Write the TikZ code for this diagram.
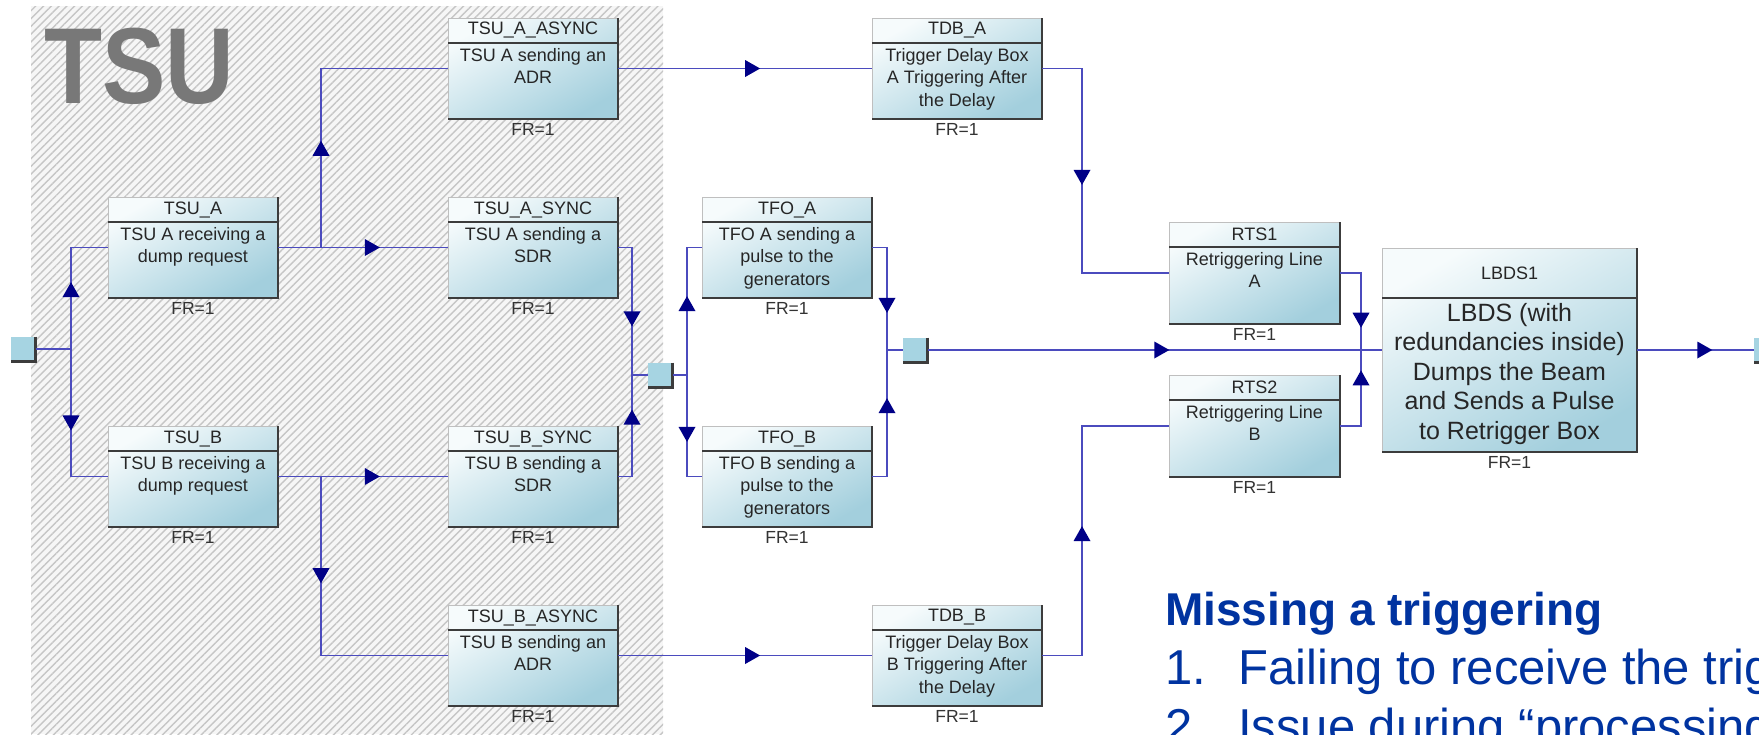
\documentclass[tikz,border=0pt]{standalone}
\usepackage{fontspec}
\setmainfont{Liberation Sans}
\usepackage{tikz}
\usetikzlibrary{shapes.geometric,patterns.meta,calc}

\definecolor{BoxTop}{RGB}{246,251,252}
\definecolor{BoxBottom}{RGB}{163,207,221}
\definecolor{PortBlue}{RGB}{166,212,226}
\definecolor{WireBlue}{RGB}{75,75,190}
\definecolor{TipBlue}{RGB}{0,0,135}
\definecolor{EdgeGray}{RGB}{60,60,60}
\definecolor{TsuGray}{RGB}{120,120,120}
\definecolor{SlideBlue}{RGB}{0,51,160}

\tikzset{
  block width/.store in=\blockw,
  block height/.store in=\blockh,
  header height/.store in=\hdrheight,
  body font/.store in=\bodyfont,
  block width=170pt,
  block height=101pt,
  header height=25pt,
  body font=\fontsize{18}{22.5}\selectfont,
}
\tikzset{
  block/.style={minimum width=\blockw, minimum height=\blockh, inner sep=0pt, outer sep=0pt,
    top color=BoxTop, bottom color=BoxBottom, shading angle=30},
  light edge/.style={draw=black!25, line width=0.6pt},
  dark edge/.style={draw=EdgeGray, line width=2.2pt},
  divider/.style={draw=EdgeGray, line width=2pt},
  header/.style={font=\fontsize{18}{22}\selectfont, text=black!85, inner sep=0pt},
  body/.style={font=\bodyfont, align=center, text=black!85, inner sep=2pt, yshift=-3pt},
  frlabel/.style={font=\fontsize{17.5}{20}\selectfont, text=black!80, inner sep=2pt, yshift=-2pt},
  port/.style={minimum size=25pt, inner sep=0pt, outer sep=0pt, fill=PortBlue},
  wire/.style={draw=WireBlue, line width=1.9pt},
  tip/.style={isosceles triangle, isosceles triangle stretches, minimum width=17pt, minimum height=15pt,
    inner sep=0pt, outer sep=0pt, fill=TipBlue, sloped, allow upside down},
}

% one reliability block: name, top left corner, header, body
\newcommand{\rbdblock}[5][]{%
  \begin{scope}[#1]
    \node[block, anchor=north west] (#2) at (#3) {};
    \draw[light edge] (#2.south west) -- (#2.north west) -- (#2.north east);
    \draw[dark edge] (#2.north east) -- (#2.south east) -- (#2.south west);
    \draw[divider] ([yshift=-\hdrheight]#2.north west) -- ([yshift=-\hdrheight]#2.north east);
    \node[header] (#2-hdr) at ([yshift=-\hdrheight/2]#2.north) {#4};
    \node[body, anchor=north] (#2-txt) at ([yshift=-\hdrheight]#2.north) {#5};
    \node[frlabel, anchor=north] (#2-fr) at (#2.south) {FR=1};
  \end{scope}
}

\begin{document}
\begin{tikzpicture}[x=1pt,y=-1pt]
      % Slide frame
      \useasboundingbox (0,0) rectangle (1759,734);
      \clip (0,0) rectangle (1759,734);

      % Hatched area of the TSU
      \fill[gray!7] (31,6) rectangle (663,734);
      \fill[pattern={Lines[angle=45,distance=5.5pt,line width=1.4pt]}, pattern color=gray!45] (31,6) rectangle (663,734);
      \node[anchor=base west, font=\fontsize{108}{108}\selectfont\bfseries, text=TsuGray, xscale=0.88, inner sep=0pt] (tsu) at (44,103) {TSU};

      % TSU blocks
      \rbdblock{tsuA}{108,197}{TSU\_A}{TSU A receiving a\\dump request}
      \rbdblock{tsuB}{108,426}{TSU\_B}{TSU B receiving a\\dump request}
      \rbdblock{adrA}{448,18}{TSU\_A\_ASYNC}{TSU A sending an\\ADR}
      \rbdblock{sdrA}{448,197}{TSU\_A\_SYNC}{TSU A sending a\\SDR}
      \rbdblock{sdrB}{448,426}{TSU\_B\_SYNC}{TSU B sending a\\SDR}
      \rbdblock{adrB}{448,605}{TSU\_B\_ASYNC}{TSU B sending an\\ADR}

      % Fan-outs and delay boxes
      \rbdblock{tfoA}{702,197}{TFO\_A}{TFO A sending a\\pulse to the\\generators}
      \rbdblock{tfoB}{702,426}{TFO\_B}{TFO B sending a\\pulse to the\\generators}
      \rbdblock{tdbA}{872,18}{TDB\_A}{Trigger Delay Box\\A Triggering After\\the Delay}
      \rbdblock{tdbB}{872,605}{TDB\_B}{Trigger Delay Box\\B Triggering After\\the Delay}

      % Retriggering lines and LBDS
      \rbdblock[block width=171pt, block height=102pt]{rts1}{1169,222}{RTS1}{Retriggering Line\\A}
      \rbdblock[block width=171pt, block height=102pt]{rts2}{1169,375}{RTS2}{Retriggering Line\\B}
      \rbdblock[block width=255pt, block height=204pt, header height=50pt,
        body font=\fontsize{25}{29.5}\selectfont]{lbds}{1382,248}{LBDS1}{LBDS (with\\redundancies inside)\\Dumps the Beam\\and Sends a Pulse\\to Retrigger Box}

      % Small squares (input, joints, output)
      \node[port] (in0) at (23,349) {};
      \node[port] (jn1) at (660,375) {};
      \node[port] (jn2) at (915,350) {};
      \node[port] (out) at (1766,350) {};
      \draw[dark edge] (in0.north east) -- (in0.south east) -- (in0.south west);
      \draw[dark edge] (jn1.north east) -- (jn1.south east) -- (jn1.south west);
      \draw[dark edge] (jn2.north east) -- (jn2.south east) -- (jn2.south west);
      \draw[dark edge] (out.north east) -- (out.south east) -- (out.south west);

      % Split and merge points
      \coordinate (split0) at (71,349);
      \coordinate (splitA) at ($(tsuA.east)+(43,0)$);
      \coordinate (splitB) at ($(tsuB.east)+(43,0)$);
      \coordinate (merge1) at (632,375);
      \coordinate (split1) at (687,375);
      \coordinate (merge2) at (887,350);
      \coordinate (merge3) at (1361,350);

      % Connections
      \draw[wire] (in0.east) -- (split0) |- node[tip, pos=0.28] (t01) {} (tsuA.west);
      \draw[wire] (split0) |- node[tip, pos=0.28] (t02) {} (tsuB.west);
      \draw[wire] (tsuA.east) -- node[tip, pos=0.54] (t03) {} (sdrA.west);
      \draw[wire] (splitA) |- node[tip, pos=0.27] (t04) {} (adrA.west);
      \draw[wire] (tsuB.east) -- node[tip, pos=0.54] (t05) {} (sdrB.west);
      \draw[wire] (splitB) |- node[tip, pos=0.27] (t06) {} (adrB.west);
      \draw[wire] (sdrA.east) -| node[tip, pos=0.77] (t07) {} (merge1) -- (jn1.west);
      \draw[wire] (sdrB.east) -| node[tip, pos=0.78] (t08) {} (merge1);
      \draw[wire] (jn1.east) -- (split1) |- node[tip, pos=0.27] (t09) {} (tfoA.west);
      \draw[wire] (split1) |- node[tip, pos=0.28] (t10) {} (tfoB.west);
      \draw[wire] (tfoA.east) -| node[tip, pos=0.77] (t11) {} (merge2) -- (jn2.west);
      \draw[wire] (tfoB.east) -| node[tip, pos=0.77] (t12) {} (merge2);
      \draw[wire] (jn2.east) -- node[tip, pos=0.51] (t13) {} (lbds.west);
      \draw[wire] (adrA.east) -- node[tip, pos=0.52] (t14) {} (tdbA.west);
      \draw[wire] (adrB.east) -- node[tip, pos=0.52] (t15) {} (tdbB.west);
      \draw[wire] (tdbA.east) -- ++(40,0) |- node[tip, pos=0.26] (t16) {} (rts1.west);
      \draw[wire] (tdbB.east) -- ++(40,0) |- node[tip, pos=0.26] (t17) {} (rts2.west);
      \draw[wire] (rts1.east) -| node[tip, pos=0.79] (t18) {} (merge3);
      \draw[wire] (rts2.east) -| node[tip, pos=0.8] (t19) {} (merge3);
      \draw[wire] (lbds.east) -- node[tip, pos=0.56] (t20) {} (out.west);

      % Slide text
      \node[anchor=base west, font=\fontsize{46}{46}\selectfont\bfseries, text=SlideBlue, inner sep=0pt] (title) at (1165,625) {Missing a triggering};
      \node[anchor=base west, font=\fontsize{49}{59}\selectfont, text=SlideBlue, inner sep=0pt] (num1) at (1165,684) {1.};
      \node[anchor=base west, font=\fontsize{49}{59}\selectfont, text=SlideBlue, inner sep=0pt] (item1) at (1238,684) {Failing to receive the trig};
      \node[anchor=base west, font=\fontsize{49}{59}\selectfont, text=SlideBlue, inner sep=0pt] (num2) at (1165,743) {2.};
      \node[anchor=base west, font=\fontsize{49}{59}\selectfont, text=SlideBlue, inner sep=0pt] (item2) at (1238,743) {Issue during “processing};
\end{tikzpicture}
\end{document}
